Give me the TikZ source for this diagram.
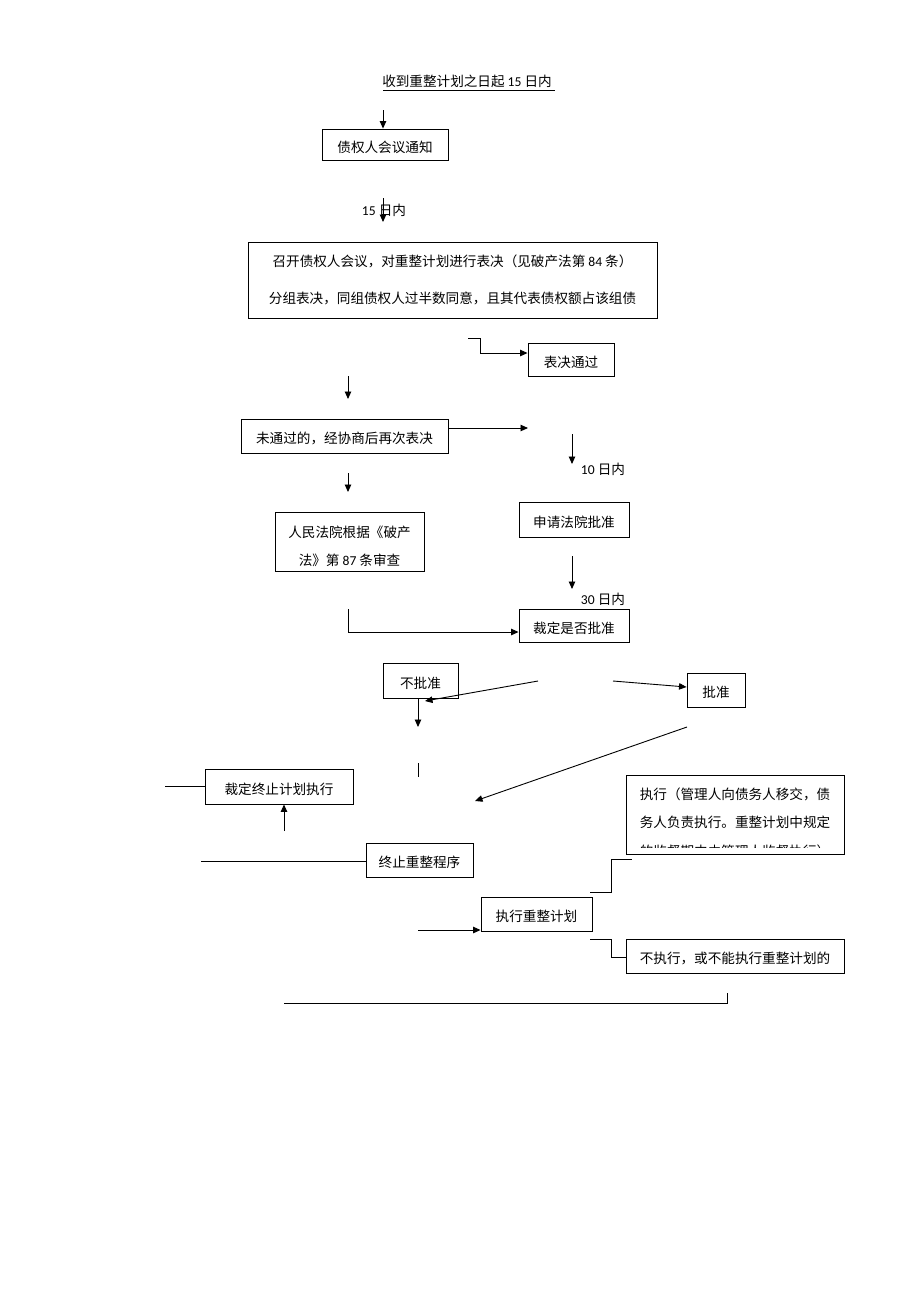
\documentclass[tikz,border=0pt]{standalone}
\usepackage{fontspec}
\newfontfamily\cjk{Noto Sans CJK SC}
\newfontfamily\carl{Carlito}
\newcommand\numtxt[1]{{\carl #1}}
\usetikzlibrary{arrows.meta,calc}
\begin{document}
\begin{tikzpicture}[x=1pt,y=-1pt,
  txt/.style={inner sep=0pt,yshift=-1.5pt,font=\cjk\fontsize{13.6}{16}\selectfont},
  box/.style={draw,line width=0.9pt,inner sep=0pt,text height=17pt,text depth=1.6pt,font=\cjk\fontsize{13.6}{16}\selectfont},
  arr/.style={-{Triangle[length=7.5pt,width=6.5pt]},line width=0.9pt},
  ln/.style={line width=0.9pt}]
\useasboundingbox (0,0) rectangle (920,1302);

% title
\node[txt] (title) at (467,80) {收到重整计划之日起 \numtxt{15} 日内};
\coordinate (u1) at (383,90); \coordinate (u2) at (555,90);
\draw[ln] (u1) -- (u2);

% boxes
\node[box,minimum width=126pt,minimum height=31pt] (n1) at (385,144.5) {债权人会议通知};
\node[box,minimum width=409pt,minimum height=76pt] (big) at (452.5,280) {};
\node[txt] (big1) at (452.5,260) {召开债权人会议，对重整计划进行表决（见破产法第 \numtxt{84} 条）};
\node[txt] (big2) at (452.5,297) {分组表决，同组债权人过半数同意，且其代表债权额占该组债};
\node[box,minimum width=86pt,minimum height=33pt] (tp) at (571,359.5) {表决通过};
\node[box,minimum width=207pt,minimum height=34pt] (nf) at (344.5,436) {未通过的，经协商后再次表决};
\node[box,minimum width=149pt,minimum height=59pt] (rm) at (349.5,541.5) {};
\node[txt] (rm1) at (349.5,531) {人民法院根据《破产};
\node[txt] (rm2) at (349.5,559) {法》第 \numtxt{87} 条审查};
\node[box,minimum width=110pt,minimum height=35pt] (sq) at (574,519.5) {申请法院批准};
\node[box,minimum width=110pt,minimum height=33pt] (cd) at (574,625.5) {裁定是否批准};
\node[box,minimum width=75pt,minimum height=35pt] (bp) at (420.5,680.5) {不批准};
\node[box,minimum width=58pt,minimum height=34pt] (pz) at (716,690) {批准};
\node[box,minimum width=148pt,minimum height=35pt] (zz) at (279,786.5) {裁定终止计划执行};
\node[box,minimum width=107pt,minimum height=34pt] (zc) at (419.5,860) {终止重整程序};
\node[box,minimum width=218pt,minimum height=79pt] (zx) at (735,814.5) {};
\node[txt] (zx1) at (735,793) {执行（管理人向债务人移交，债};
\node[txt] (zx2) at (735,821) {务人负责执行。重整计划中规定};
\begin{scope}
  \clip (626,840) rectangle (844,847.5);
  \node[txt] (zx3) at (735,850) {的监督期内由管理人监督执行）};
\end{scope}
\node[box,minimum width=111pt,minimum height=34pt] (jh) at (536.5,914) {执行重整计划};
\node[box,minimum width=218pt,minimum height=34pt] (bzx) at (735,956) {不执行，或不能执行重整计划的};

% labels
\node[txt] (l15) at (384,209) {\numtxt{15} 日内};
\node[txt] (l10) at (603,468) {\numtxt{10} 日内};
\node[txt] (l30) at (603,598) {\numtxt{30} 日内};

% connectors
\coordinate (c1) at (383,110);
\draw[arr] (c1) -- (c1 |- n1.north);
\coordinate (c2a) at (383,198); \coordinate (c2b) at (383,222);
\draw[arr] (c2a) -- (c2b);
\coordinate (c3) at (468,338); \coordinate (c3b) at (480,353);
\draw[arr] (c3) -| (c3b) -- (c3b -| tp.west);
\coordinate (c4a) at (348,376); \coordinate (c4b) at (348,399);
\draw[arr] (c4a) -- (c4b);
\coordinate (c5) at (528,428);
\draw[arr] (nf.east |- c5) -- (c5);
\coordinate (c6a) at (572,434); \coordinate (c6b) at (572,464);
\draw[arr] (c6a) -- (c6b);
\coordinate (c7a) at (348,473); \coordinate (c7b) at (348,492);
\draw[arr] (c7a) -- (c7b);
\coordinate (c8a) at (572,556); \coordinate (c8b) at (572,589);
\draw[arr] (c8a) -- (c8b);
\coordinate (c9) at (348,609); \coordinate (c9b) at (348,632);
\draw[arr] (c9) -- (c9b) -- (c9b -| cd.west);
\coordinate (c10a) at (538,681); \coordinate (c10b) at (425,701);
\draw[arr] (c10a) -- (c10b);
\coordinate (c11a) at (613,681); \coordinate (c11b) at (687,687);
\draw[arr] (c11a) -- (c11b -| pz.west);
\coordinate (c12) at (418,727);
\draw[arr] (c12 |- bp.south) -- (c12);
\coordinate (c13a) at (418,763); \coordinate (c13b) at (418,777);
\draw[ln] (c13a) -- (c13b);
\coordinate (c14a) at (687,727); \coordinate (c14b) at (475,801);
\draw[arr] (c14a) -- (c14b);
\coordinate (c15) at (165,786);
\draw[ln] (c15) -- (c15 -| zz.west);
\coordinate (c16) at (284,831);
\draw[arr] (c16) -- (c16 |- zz.south);
\coordinate (c17) at (201,861);
\draw[ln] (c17) -- (c17 -| zc.west);
\coordinate (c18a) at (590,892); \coordinate (c18b) at (611,859); \coordinate (c18c) at (632,859);
\draw[ln] (c18a) -| (c18b) -- (c18c);
\coordinate (c19) at (418,930);
\draw[arr] (c19) -- (c19 -| jh.west);
\coordinate (c20a) at (590,939); \coordinate (c20b) at (611,957);
\draw[ln] (c20a) -| (c20b) -- (c20b -| bzx.west);
\coordinate (c21a) at (284,1003); \coordinate (c21b) at (727,1003); \coordinate (c21c) at (727,993);
\draw[ln] (c21a) -- (c21b) -- (c21c);
\end{tikzpicture}
\end{document}
